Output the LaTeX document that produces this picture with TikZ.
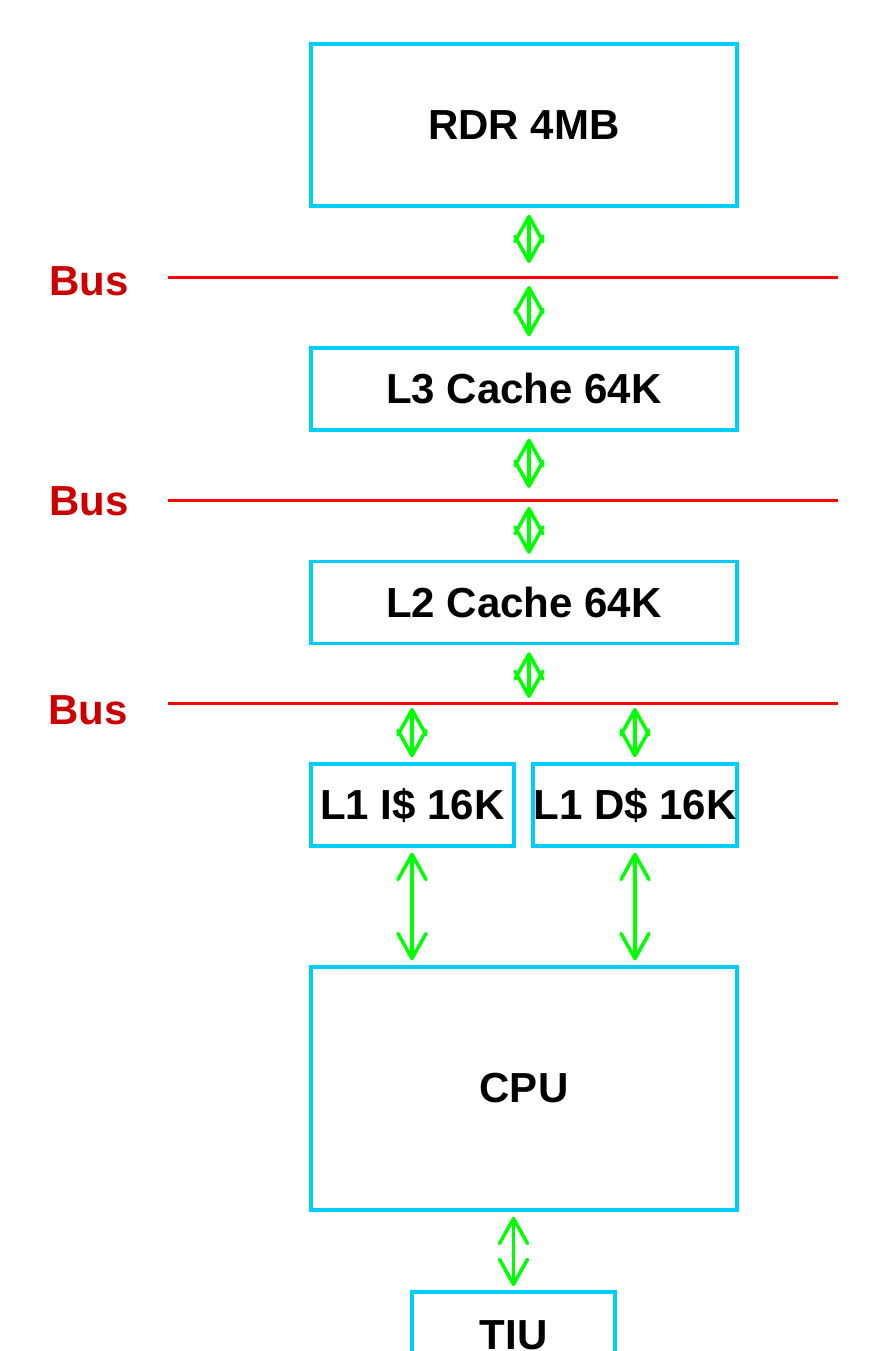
\documentclass[tikz,border=0pt]{standalone}
\usepackage{fontspec}
\setmainfont{Liberation Sans}
\usetikzlibrary{arrows.meta}
\definecolor{boxcyan}{RGB}{0,204,255}
\definecolor{busred}{RGB}{255,0,0}
\definecolor{labred}{RGB}{204,0,0}
\definecolor{arrgreen}{RGB}{0,255,0}
\tikzset{
  unitbox/.style={draw=boxcyan, line width=3.5pt, inner sep=0pt, font=\bfseries\fontsize{42}{42}\selectfont},
  busline/.style={draw=busred, line width=3pt},
  buslabel/.style={text=labred, font=\bfseries\fontsize{42}{42}\selectfont, inner sep=0pt},
  link/.style={draw=arrgreen, line width=3.5pt, line cap=round,
    {Straight Barb[length=25pt,width=28pt,line cap=round,line join=round]}-{Straight Barb[length=25pt,width=28pt,line cap=round,line join=round]}}
}
\begin{document}
\begin{tikzpicture}[x=1pt,y=-1pt]
\useasboundingbox (0,0) rectangle (879,1351);
% boxes
\node[unitbox, minimum width=426pt, minimum height=162pt] (rdr) at (524,125) {RDR 4MB};
\node[unitbox, minimum width=426pt, minimum height=82pt] (l3) at (524,389) {L3 Cache 64K};
\node[unitbox, minimum width=426pt, minimum height=82pt] (l2) at (524,602.5) {L2 Cache 64K};
\node[unitbox, minimum width=203pt, minimum height=82pt] (l1i) at (412.5,805) {L1 I\$ 16K};
\node[unitbox, minimum width=204pt, minimum height=82pt] (l1d) at (635,805) {L1 D\$ 16K};
\node[unitbox, minimum width=426pt, minimum height=243pt] (cpu) at (524,1088.5) {CPU};
\node[unitbox, minimum width=203pt, minimum height=100pt, anchor=north] (tiu) at (513.5,1290) {};
\node[font=\bfseries\fontsize{42}{42}\selectfont, inner sep=0pt] (tiulabel) at (513.5,1335) {TIU};
% buses
\coordinate (b1l) at (168,277); \coordinate (b1r) at (838,277);
\coordinate (b2l) at (168,500); \coordinate (b2r) at (838,500);
\coordinate (b3l) at (168,703); \coordinate (b3r) at (838,703);
\draw[busline] (b1l) -- (b1r);
\draw[busline] (b2l) -- (b2r);
\draw[busline] (b3l) -- (b3r);
\node[buslabel] (bus1) at (89,281) {Bus};
\node[buslabel] (bus2) at (89,501) {Bus};
\node[buslabel] (bus3) at (88,710) {Bus};
% bus taps
\coordinate (t1) at (529,277);
\coordinate (t2) at (529,500);
\coordinate (t3) at (529,703);
\coordinate (t3i) at (412,703);
\coordinate (t3d) at (635,703);
% diamond links
\draw[link, shorten <=7pt, shorten >=14pt] (rdr.south -| t1) -- (t1);
\draw[link, shorten <=9pt, shorten >=10pt] (t1) -- (l3.north -| t1);
\draw[link, shorten <=7pt, shorten >=12pt] (l3.south -| t2) -- (t2);
\draw[link, shorten <=7pt, shorten >=6pt] (t2) -- (l2.north -| t2);
\draw[link, shorten <=7pt, shorten >=5pt] (l2.south -| t3) -- (t3);
\draw[link, shorten <=5pt, shorten >=5pt] (t3i) -- (l1i.north -| t3i);
\draw[link, shorten <=5pt, shorten >=5pt] (t3d) -- (l1d.north -| t3d);
% long links
\draw[link, shorten <=5pt, shorten >=5pt] (l1i.south -| t3i) -- (cpu.north -| t3i);
\draw[link, shorten <=5pt, shorten >=5pt] (l1d.south -| t3d) -- (cpu.north -| t3d);
\draw[link, shorten <=5pt, shorten >=4pt] (cpu.south -| tiu.north) -- (tiu.north);
\end{tikzpicture}
\end{document}
